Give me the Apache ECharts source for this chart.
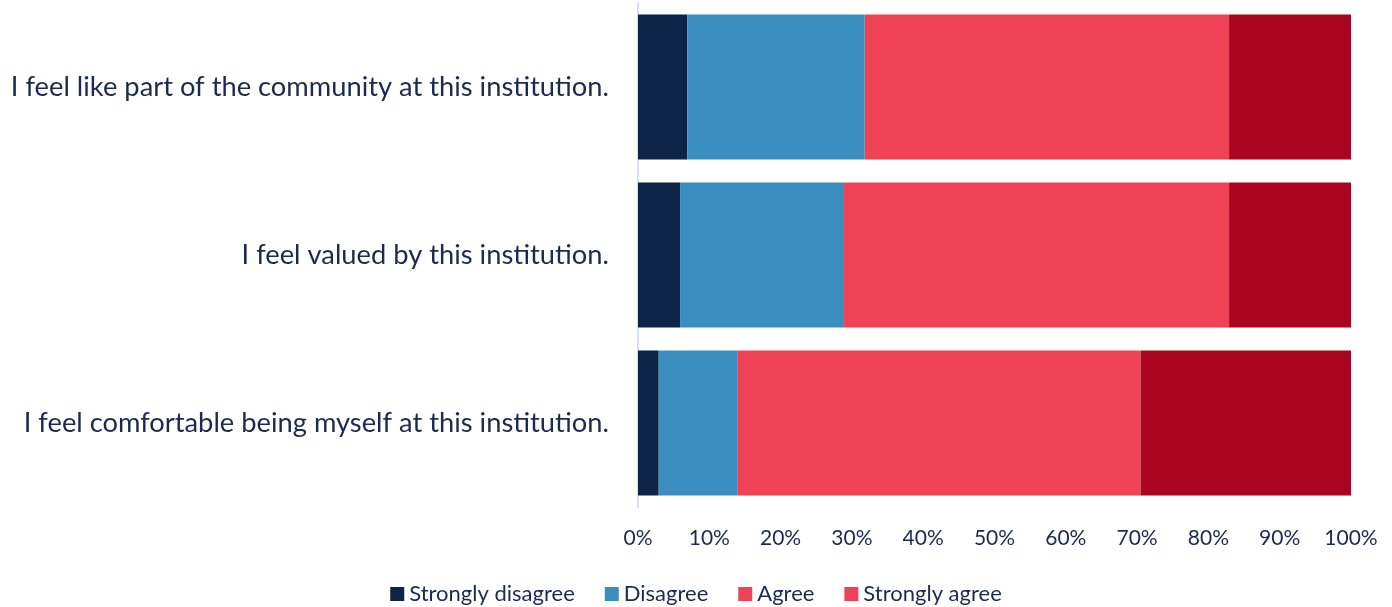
<!DOCTYPE html>
<html><head><meta charset="utf-8">
<script src="https://cdn.jsdelivr.net/npm/echarts@6/dist/echarts.min.js"></script>
<style>html,body{margin:0;padding:0;background:#fff}#c{width:1392px;height:607px}</style>
</head><body><div id="c"></div>
<script>
const categories = ["I feel like part of the community at this institution.", "I feel valued by this institution.", "I feel comfortable being myself at this institution."];
const seriesNames = ["Strongly disagree", "Disagree", "Agree", "Strongly agree"];
const stronglyDisagree = [6.9, 5.9, 2.9];
const disagree = [24.9, 23.0, 11.1];
const agree = [51.1, 54.0, 56.5];
const stronglyAgree = [17.1, 17.1, 29.5];
const xTicks = [0, 10, 20, 30, 40, 50, 60, 70, 80, 90, 100];

const colors = ["#0E2348", "#3A8DBF", "#F04256", "#AA0520"];
const legendColors = ["#0E2348", "#3A8DBF", "#F04256", "#F04256"];
const values = [stronglyDisagree, disagree, agree, stronglyAgree];
const textColor = "#1B2A4E";
const font = "Lato, 'Open Sans', sans-serif";

const chart = echarts.init(document.getElementById('c'));
chart.setOption({
  animation: false,
  grid: {left: 638, right: 41, top: 3, bottom: 100, containLabel: false},
  legend: {
    top: 578, left: 'center', itemWidth: 14, itemHeight: 14, itemGap: 30,
    textStyle: {color: textColor, fontSize: 22, fontFamily: font},
    data: seriesNames.map((n, i) => ({name: n, icon: 'rect', itemStyle: {color: legendColors[i]}}))
  },
  xAxis: {
    type: 'value', min: 0, max: 100, interval: 10,
    axisLine: {show: false}, axisTick: {show: false}, splitLine: {show: false},
    axisLabel: {color: textColor, fontSize: 21, fontFamily: font, margin: 21,
      formatter: v => xTicks.includes(v) ? v + '%' : ''}
  },
  yAxis: {
    type: 'category', inverse: true, data: categories,
    axisLine: {show: true, lineStyle: {color: '#D6DFF0', width: 2}},
    axisTick: {show: false},
    axisLabel: {color: textColor, fontSize: 27.3, fontFamily: font, margin: 29}
  },
  series: seriesNames.map((n, i) => ({
    name: n, type: 'bar', stack: 'total', barWidth: 145,
    itemStyle: {color: colors[i]},
    data: values[i]
  }))
});
</script></body></html>
